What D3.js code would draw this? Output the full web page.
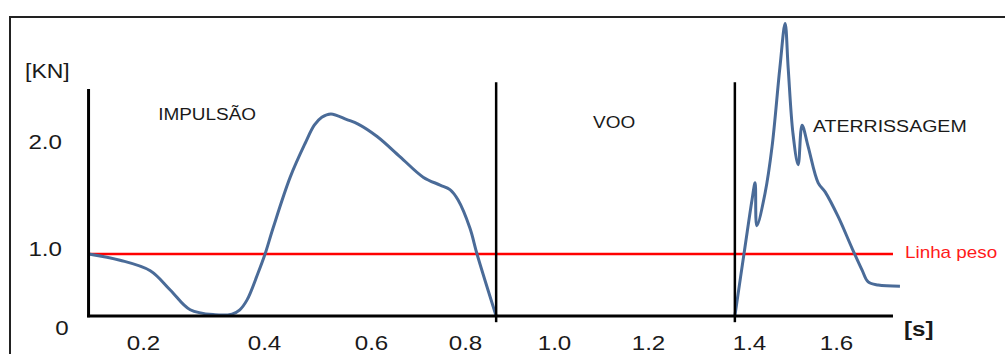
<!DOCTYPE html>
<html>
<head>
  <meta charset="UTF-8">
  <style>
    body { margin: 0; background: #fff; }
    svg { display: block; font-family: "Liberation Sans", Arial, sans-serif; }
  </style>
</head>
<body>
<svg></svg>
<script src="https://d3js.org/d3.v7.min.js"></script>
<script>

let width = 1005, height = 354;

// force curve: time [s] and force [kN]
let timeS  = [0.11, 0.162, 0.212, 0.245, 0.278, 0.319, 0.347, 0.36, 0.372, 0.39,
              0.402, 0.417, 0.449, 0.477, 0.494, 0.508, 0.525, 0.555, 0.576, 0.613, 0.662,
              0.711, 0.747, 0.768, 0.785, 0.811, 0.827, 0.87,
              1.372, 1.392, 1.407, 1.414, 1.418, 1.437, 1.453, 1.471, 1.483, 1.49,
              1.501, 1.513, 1.522, 1.536, 1.559, 1.575, 1.605, 1.637, 1.66, 1.674,
              1.697, 1.747];
let forceKN = [1.00, 0.90, 0.73, 0.42, 0.10, 0.02, 0.03, 0.10, 0.26, 0.69,
               1.00, 1.23, 1.68, 1.98, 2.14, 2.21, 2.24, 2.19, 2.15, 2.04, 1.86,
               1.68, 1.61, 1.57, 1.48, 1.23, 1.00, 0,
               0, 1.06, 1.48, 1.63, 1.25, 1.54, 1.95, 2.65, 3.04, 2.65,
               2.07, 1.79, 2.14, 1.95, 1.63, 1.55, 1.33, 1.05, 0.74, 0.55,
               0.50, 0.48];

let xTicks = [0.2, 0.4, 0.6, 0.8, 1.0, 1.2, 1.4, 1.6];
let yTicks = [0, 1, 2];
let weightKN = 1.0;
let phaseBounds = [0.87, 1.372];
let phaseNames = ["IMPULSÃO", "VOO", "ATERRISSAGEM"];
let phaseLabelT = [0.225, 1.083, 1.547];
let phaseLabelV = [2.19, 2.115, 2.08];

let tStart = 0.11, tEnd = 1.731;

// the picture's axes are hand drawn, so the scales are piecewise
let x = d3.scaleLinear().domain(xTicks).range([143, 264, 371, 465, 554, 648, 749, 836]);
let y = d3.scaleLinear().domain(yTicks).range([316, 254, 141]);
let yLab = d3.scaleLinear().domain(yTicks).range([334, 255, 148]);

let stretch = "scale(1.15,1)";
let ink = "#1a1a1a";

let svg = d3.select("svg")
    .attr("width", width)
    .attr("height", height);

// outer frame
svg.append("rect")
.attr("x", 10).attr("y", 17)
.attr("width", 1010).attr("height", 400)
.attr("fill", "none")
.attr("stroke", "#222")
.attr("stroke-width", 2);

// weight line
svg.append("line")
.attr("x1", x(tStart)).attr("x2", x(tEnd))
.attr("y1", y(weightKN)).attr("y2", y(weightKN))
.attr("stroke", "#ff0000")
.attr("stroke-width", 2.5);

svg.append("text")
.attr("transform", "translate(" + (x(tEnd) + 12) + "," + (y(weightKN) + 4) + ") " + stretch)
.attr("fill", "#ff1a1a")
.attr("font-size", "16.4px")
.text("Linha peso");

// force curve: ground contact before take-off and after landing,
// the flight part lies on the axis
let pts = timeS.map((t, i) => [t, forceKN[i]]);
let segments = [
  pts.filter(d => d[0] <= phaseBounds[0]),
  pts.filter(d => d[0] >= phaseBounds[1])
];
let line = d3.line()
.x(d => x(d[0]))
.y(d => y(d[1]))
.curve(d3.curveCatmullRom.alpha(0.5));

svg.append("g")
.selectAll("path")
.data(segments)
.enter()
.append("path")
.attr("d", line)
.attr("fill", "none")
.attr("stroke", "#4a6b98")
.attr("stroke-width", 3)
.attr("stroke-linejoin", "round");

// axes lines
svg.append("line")
.attr("x1", x(tStart)).attr("x2", x(tStart))
.attr("y1", y(2.46)).attr("y2", y(-0.02))
.attr("stroke", "#000").attr("stroke-width", 3);

svg.append("line")
.attr("x1", x(tStart) - 1.5).attr("x2", x(tEnd))
.attr("y1", y(0)).attr("y2", y(0))
.attr("stroke", "#000").attr("stroke-width", 3);

// phase separators
svg.append("g")
.selectAll("line")
.data(phaseBounds)
.enter()
.append("line")
.attr("x1", d => x(d)).attr("x2", d => x(d))
.attr("y1", y(2.52)).attr("y2", y(-0.1))
.attr("stroke", "#000")
.attr("stroke-width", 2.5);

// phase names
svg.append("g")
.selectAll("text")
.data(phaseNames)
.enter()
.append("text")
.attr("transform", (d, i) => "translate(" + x(phaseLabelT[i]) + "," + y(phaseLabelV[i]) + ") " + stretch)
.attr("font-size", (d, i) => i == 2 ? "17px" : "16.5px")
.attr("fill", ink)
.text(d => d);

// tick labels
let xAxis = svg.append("g")
.attr("transform", "translate(0,350)")
.call(d3.axisBottom(x).tickValues(xTicks).tickSize(0).tickPadding(0).tickFormat(d3.format(".1f")));
xAxis.select(".domain").remove();
xAxis.selectAll("text")
.attr("dy", 0)
.attr("y", 0)
.attr("font-size", "21px")
.attr("font-family", "Liberation Sans, Arial, sans-serif")
.attr("fill", ink)
.attr("transform", stretch);

let yAxis = svg.append("g")
.attr("transform", "translate(62,0)")
.call(d3.axisLeft(yLab).tickValues(yTicks).tickSize(0).tickPadding(0)
    .tickFormat(d => d == 0 ? "0" : d3.format(".1f")(d)));
yAxis.select(".domain").remove();
yAxis.selectAll("text")
.attr("dy", 0)
.attr("x", 0)
.attr("font-size", "21px")
.attr("font-family", "Liberation Sans, Arial, sans-serif")
.attr("fill", ink)
.attr("text-anchor", d => d == 0 ? "middle" : "end")
.attr("transform", stretch);

// units
svg.append("text")
.attr("transform", "translate(25,78) " + stretch)
.attr("font-size", "20px")
.attr("fill", ink)
.text("[KN]");

svg.append("text")
.attr("transform", "translate(" + (x(tEnd) + 11) + ",336) " + stretch)
.attr("font-size", "21px")
.attr("font-weight", "bold")
.attr("fill", ink)
.text("[s]");

</script>
</body>
</html>
